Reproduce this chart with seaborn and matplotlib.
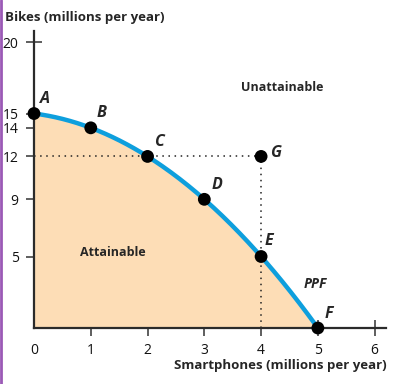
import numpy as np
import pandas as pd
import matplotlib
matplotlib.use("Agg")
import matplotlib.pyplot as plt
import seaborn as sns

# production possibilities
points = ["A", "B", "C", "D", "E", "F"]
smartphones = [0, 1, 2, 3, 4, 5]
bikes = [15, 14, 12, 9, 5, 0]

# point outside the frontier
g_point = ("G", 4, 12)

x_ticks = [0, 1, 2, 3, 4, 5, 6]
y_ticks = [5, 9, 12, 14, 15, 20]

sns.set_style("white")
plt.rcParams["font.family"] = ["Open Sans", "DejaVu Sans"]

df = pd.DataFrame({"point": points, "smartphones": smartphones, "bikes": bikes})

# smooth frontier through the points
coef = np.polyfit(df["smartphones"], df["bikes"], 2)
xs = np.linspace(min(smartphones), max(smartphones), 200)
curve = pd.DataFrame({"smartphones": xs, "bikes": np.polyval(coef, xs)})

fig = plt.figure(figsize=(3.93, 3.84), dpi=100)
ax = fig.add_axes([34 / 393, 1 - 328 / 384, 352 / 393, (328 - 30.6) / 384])

ax.fill_between(curve["smartphones"], 0, curve["bikes"], color="#FDDDB6", lw=0, zorder=1)
sns.lineplot(data=curve, x="smartphones", y="bikes", ax=ax, color="#0E9FDD",
             lw=3.2, zorder=3)

# dotted guides to G
ax.plot([0, g_point[1]], [g_point[2], g_point[2]], ls=(0, (1, 3)), color="#222222", lw=1.1, zorder=2)
ax.plot([g_point[1], g_point[1]], [0, g_point[2]], ls=(0, (1, 3)), color="#222222", lw=1.1, zorder=2)

all_pts = pd.concat([df, pd.DataFrame({"point": [g_point[0]], "smartphones": [g_point[1]],
                                       "bikes": [g_point[2]]})])
sns.scatterplot(data=all_pts, x="smartphones", y="bikes", ax=ax, color="black",
                s=85, edgecolor="none", zorder=5, clip_on=False)

offsets = {"A": (0.1, 0.45), "B": (0.1, 0.45), "C": (0.12, 0.45), "D": (0.12, 0.45),
           "E": (0.06, 0.5), "F": (0.12, 0.4), "G": (0.15, -0.35)}
for _, r in all_pts.iterrows():
    dx, dy = offsets[r["point"]]
    ax.text(r["smartphones"] + dx, r["bikes"] + dy, r["point"], fontsize=11.5,
            fontweight="bold", fontstyle="italic", ha="left", va="bottom", zorder=6)

ax.text(4.37, 16.85, "Unattainable", fontsize=9, fontweight="bold", ha="center", va="center")
ax.text(1.39, 5.25, "Attainable", fontsize=9, fontweight="bold", ha="center", va="center")
ax.text(4.95, 3.1, "PPF", fontsize=10, fontweight="bold", fontstyle="italic", ha="center", va="center")

ax.set_xlim(0, 6.2)
ax.set_ylim(0, 20.8)
ax.set_xticks(x_ticks)
ax.set_xticklabels([str(t) for t in x_ticks])
ax.set_yticks(y_ticks)
ax.set_yticklabels([str(t) for t in y_ticks])
ax.tick_params(axis="both", bottom=True, left=True, direction="inout", length=12,
               width=1.1, color="#333333", labelsize=10, pad=5, labelcolor="#111111")
ax.xaxis.get_major_ticks()[0].tick1line.set_visible(False)
ax.set_xlabel("")
ax.set_ylabel("")

for side in ["top", "right"]:
    ax.spines[side].set_visible(False)
for side in ["left", "bottom"]:
    ax.spines[side].set_color("#2b2b2b")
    ax.spines[side].set_linewidth(1.6)
    ax.spines[side].set_zorder(4)

fig.text(5 / 393, 1 - 18 / 384, "Bikes (millions per year)", fontsize=9.5,
         fontweight="bold", ha="left", va="center")
fig.text(387 / 393, 1 - 366 / 384, "Smartphones (millions per year)", fontsize=9.5,
         fontweight="bold", ha="right", va="center")

# thin purple border on the left edge
fig.add_artist(plt.Line2D([1 / 393, 1 / 393], [0, 1], color="#9B59B6", lw=2,
                          transform=fig.transFigure))

fig.savefig("out.png", dpi=100)
